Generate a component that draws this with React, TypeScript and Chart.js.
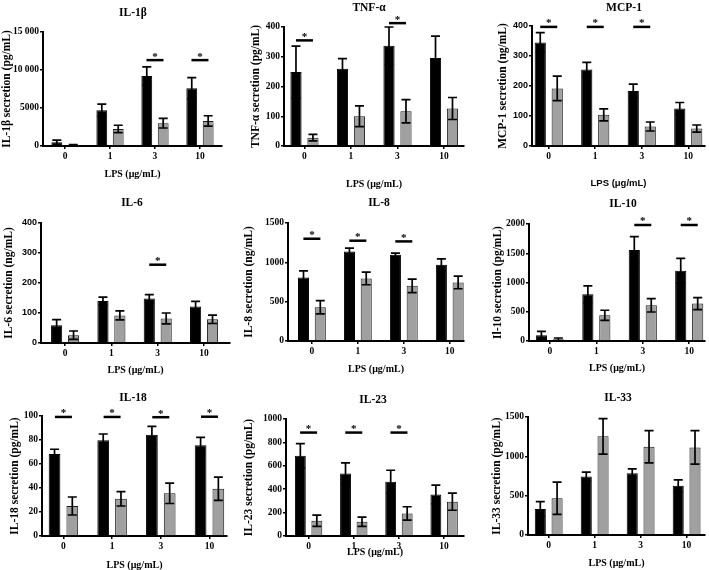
import React, { useEffect, useRef } from "react";
import { Chart, registerables } from "chart.js";

Chart.register(...registerables);

// ---------- DATA ----------
const LPS_DOSES = ["0", "1", "3", "10"];

// IL-1β (pg/mL)
const IL1B_BLACK = [480, 4700, 9200, 7600];
const IL1B_BLACK_ERR = [300, 800, 1200, 1400];
const IL1B_GRAY = [120, 2250, 3000, 3300];
const IL1B_GRAY_ERR = [80, 480, 630, 680];
const IL1B_SIG = [null, null, 11300, 11300];

// TNF-α (pg/mL)
const TNF_BLACK = [249, 260, 337, 296];
const TNF_BLACK_ERR = [87, 34, 63, 73];
const TNF_GRAY = [28, 100, 117, 126];
const TNF_GRAY_ERR = [11, 35, 39, 37];
const TNF_SIG = [355, null, 413, null];

// MCP-1 (ng/mL)
const MCP1_BLACK = [345, 255, 183, 125];
const MCP1_BLACK_ERR = [33, 24, 23, 20];
const MCP1_GRAY = [192, 104, 65, 58];
const MCP1_GRAY_ERR = [41, 20, 15, 12];
const MCP1_SIG = [397, 397, 397, null];

// IL-6 (ng/mL)
const IL6_BLACK = [59, 140, 148, 122];
const IL6_BLACK_ERR = [19, 13, 13, 17];
const IL6_GRAY = [26, 92, 82, 79];
const IL6_GRAY_ERR = [14, 15, 18, 14];
const IL6_SIG = [null, null, 261, null];

// IL-8 (ng/mL)
const IL8_BLACK = [807, 1139, 1096, 969];
const IL8_BLACK_ERR = [85, 42, 22, 76];
const IL8_GRAY = [429, 795, 701, 744];
const IL8_GRAY_ERR = [85, 80, 85, 80];
const IL8_SIG = [1300, 1275, 1266, null];

// IL-10 (pg/mL)
const IL10_BLACK = [97, 800, 1554, 1200];
const IL10_BLACK_ERR = [69, 143, 229, 211];
const IL10_GRAY = [29, 440, 611, 640];
const IL10_GRAY_ERR = [22, 86, 115, 103];
const IL10_SIG = [null, null, 1983, 1983];

// IL-18 (pg/mL)
const IL18_BLACK = [68.3, 79.7, 84.4, 75.6];
const IL18_BLACK_ERR = [4, 5.3, 7, 6.6];
const IL18_GRAY = [25, 31, 35.6, 39.4];
const IL18_GRAY_ERR = [7.5, 6, 8.5, 9.7];
const IL18_SIG = [99.2, 99.2, 99, 99.4];

// IL-23 (pg/mL)
const IL23_BLACK = [685, 534, 463, 355];
const IL23_BLACK_ERR = [105, 91, 99, 80];
const IL23_GRAY = [131, 122, 193, 293];
const IL23_GRAY_ERR = [48, 40, 57, 73];
const IL23_SIG = [884, 884, 884, null];

// IL-33 (pg/mL)
const IL33_BLACK = [331, 744, 786, 625];
const IL33_BLACK_ERR = [94, 55, 55, 76];
const IL33_GRAY = [467, 1254, 1122, 1113];
const IL33_GRAY_ERR = [204, 225, 204, 213];
const IL33_SIG = [null, null, null, null];

const TITLES = ["IL-1β", "TNF-α", "MCP-1", "IL-6", "IL-8", "IL-10", "IL-18", "IL-23", "IL-33"];
const Y_TITLES = [
  "IL-1β secretion (pg/mL)",
  "TNF-α secretion (pg/mL)",
  "MCP-1 secretion (ng/mL)",
  "IL-6 secretion (ng/mL)",
  "IL-8 secretion (ng/mL)",
  "Il-10 secretion (pg/mL)",
  "IL-18 secretion (pg/mL)",
  "IL-23 secretion (pg/mL)",
  "IL-33 secretion (pg/mL)",
];
const Y_MAX = [15000, 400, 400, 400, 1500, 2000, 100, 1000, 1500];
const Y_STEP = [5000, 100, 100, 100, 500, 500, 20, 200, 500];
const X_TITLE = "LPS (μg/mL)";

const SERIES = [
  [IL1B_BLACK, IL1B_BLACK_ERR, IL1B_GRAY, IL1B_GRAY_ERR, IL1B_SIG],
  [TNF_BLACK, TNF_BLACK_ERR, TNF_GRAY, TNF_GRAY_ERR, TNF_SIG],
  [MCP1_BLACK, MCP1_BLACK_ERR, MCP1_GRAY, MCP1_GRAY_ERR, MCP1_SIG],
  [IL6_BLACK, IL6_BLACK_ERR, IL6_GRAY, IL6_GRAY_ERR, IL6_SIG],
  [IL8_BLACK, IL8_BLACK_ERR, IL8_GRAY, IL8_GRAY_ERR, IL8_SIG],
  [IL10_BLACK, IL10_BLACK_ERR, IL10_GRAY, IL10_GRAY_ERR, IL10_SIG],
  [IL18_BLACK, IL18_BLACK_ERR, IL18_GRAY, IL18_GRAY_ERR, IL18_SIG],
  [IL23_BLACK, IL23_BLACK_ERR, IL23_GRAY, IL23_GRAY_ERR, IL23_SIG],
  [IL33_BLACK, IL33_BLACK_ERR, IL33_GRAY, IL33_GRAY_ERR, IL33_SIG],
];

// ---------- LAYOUT (page px) ----------
type Lay = {
  cx: number; cy: number; cw: number; ch: number;
  L: number; T: number; R: number; B: number;
  xMin: number; xMax: number;
  titleX: number; titleY: number; xTitleY: number; yTitleX: number;
  sansY?: boolean; sansXTitle?: boolean;
};

const LAYOUT: Lay[] = [
  { cx: 0, cy: 0, cw: 236, ch: 192, L: 43, T: 32, R: 222, B: 146, xMin: -0.49, xMax: 3.49, titleX: 133, titleY: 13, xTitleY: 174, yTitleX: 7 },
  { cx: 236, cy: 0, cw: 234, ch: 192, L: 284, T: 27, R: 464, B: 146, xMin: -0.44, xMax: 3.43, titleX: 369, titleY: 8, xTitleY: 184, yTitleX: 256 },
  { cx: 470, cy: 0, cw: 239, ch: 192, L: 532, T: 26, R: 705, B: 146, xMin: -0.36, xMax: 3.36, titleX: 624, titleY: 8, xTitleY: 183, yTitleX: 503, sansY: true, sansXTitle: true },
  { cx: 0, cy: 192, cw: 236, ch: 193, L: 41, T: 223, R: 230, B: 343, xMin: -0.52, xMax: 3.56, titleX: 132, titleY: 203, xTitleY: 370, yTitleX: 9, sansY: true },
  { cx: 236, cy: 192, cw: 234, ch: 193, L: 288, T: 223, R: 464, B: 341, xMin: -0.52, xMax: 3.31, titleX: 379, titleY: 203, xTitleY: 369, yTitleX: 249 },
  { cx: 470, cy: 192, cw: 239, ch: 193, L: 529, T: 224, R: 705, B: 341, xMin: -0.45, xMax: 3.34, titleX: 623, titleY: 204, xTitleY: 368, yTitleX: 498 },
  { cx: 0, cy: 385, cw: 236, ch: 185, L: 42, T: 416, R: 227, B: 536, xMin: -0.44, xMax: 3.36, titleX: 133, titleY: 398, xTitleY: 565, yTitleX: 15 },
  { cx: 236, cy: 385, cw: 234, ch: 185, L: 286, T: 419, R: 464, B: 536, xMin: -0.5, xMax: 3.44, titleX: 373, titleY: 400, xTitleY: 552, yTitleX: 249 },
  { cx: 470, cy: 385, cw: 239, ch: 185, L: 528, T: 417, R: 705, B: 535, xMin: -0.45, xMax: 3.4, titleX: 618, titleY: 398, xTitleY: 563, yTitleX: 497 },
];

const SERIF = "'Liberation Serif', 'Times New Roman', serif";
const SANS = "'Liberation Sans', Arial, sans-serif";
const BLACK_FILL = "#000000";
const GRAY_FILL = "#a0a0a0";

const fmt = (v: number) =>
  v >= 10000 ? String(v).replace(/\B(?=(\d{3})+(?!\d))/g, " ") : String(v);

function Panel({ idx }: { idx: number }) {
  const ref = useRef<HTMLCanvasElement>(null);
  const lay = LAYOUT[idx];
  useEffect(() => {
    const [black, blackErr, gray, grayErr, sig] = SERIES[idx] as any[];
    const yAxisW = lay.L - lay.cx;
    const xAxisH = lay.cy + lay.ch - lay.B;
    const padTop = lay.T - lay.cy;
    const padRight = lay.cx + lay.cw - lay.R;
    const yTitleSize = 11.5;
    const yTitlePad = lay.yTitleX - lay.cx - (yTitleSize * 1.2) / 2;
    const xTitleSize = 10;
    const xTitlePad = lay.cy + lay.ch - lay.xTitleY - (xTitleSize * 1.2) / 2;

    const overlay = {
      id: "overlay" + idx,
      afterDatasetsDraw(chart: any) {
        const ctx = chart.ctx as CanvasRenderingContext2D;
        const xs = chart.scales.x;
        const ys = chart.scales.y;
        ctx.save();
        ctx.strokeStyle = "#000";
        ctx.lineWidth = 1.7;
        const pairs = [
          [black, blackErr],
          [gray, grayErr],
        ];
        pairs.forEach(([m, e], di) => {
          const meta = chart.getDatasetMeta(di);
          meta.data.forEach((bar: any, j: number) => {
            const x = bar.x;
            const yt = ys.getPixelForValue(m[j] + e[j]);
            const yb = ys.getPixelForValue(Math.max(0, m[j] - e[j]));
            const cap = 4.5;
            ctx.beginPath();
            ctx.moveTo(x, yt);
            ctx.lineTo(x, yb);
            ctx.moveTo(x - cap, yt);
            ctx.lineTo(x + cap, yt);
            ctx.moveTo(x - cap, yb);
            ctx.lineTo(x + cap, yb);
            ctx.stroke();
          });
        });
        // significance markers
        ctx.lineWidth = 2.5;
        ctx.fillStyle = "#000";
        ctx.font = `bold 11px ${SERIF}`;
        ctx.textAlign = "center";
        ctx.textBaseline = "alphabetic";
        sig.forEach((s: number | null, i: number) => {
          if (s == null) return;
          const x = xs.getPixelForValue(i);
          const y = ys.getPixelForValue(s);
          ctx.beginPath();
          ctx.moveTo(x - 8.5, y);
          ctx.lineTo(x + 8.5, y);
          ctx.stroke();
          ctx.fillText("*", x, y - 0.5);
        });
        // panel title
        ctx.font = `bold 11.5px ${SERIF}`;
        ctx.textBaseline = "middle";
        ctx.fillText(TITLES[idx], lay.titleX - lay.cx, lay.titleY - lay.cy);
        ctx.restore();
      },
    };

    const chart = new Chart(ref.current as HTMLCanvasElement, {
      type: "bar",
      data: {
        datasets: [
          {
            data: black.map((v: number, i: number) => ({ x: i, y: v })),
            backgroundColor: BLACK_FILL,
            borderColor: "#000",
            borderWidth: 1,
            categoryPercentage: 0.73,
            barPercentage: 0.66,
          },
          {
            data: gray.map((v: number, i: number) => ({ x: i, y: v })),
            backgroundColor: GRAY_FILL,
            borderColor: "#1a1a1a",
            borderWidth: 1,
            categoryPercentage: 0.73,
            barPercentage: 0.66,
          },
        ],
      },
      options: {
        responsive: false,
        animation: false,
        devicePixelRatio: 1,
        events: [],
        layout: { padding: { left: 0, top: padTop, right: padRight, bottom: 0 } },
        plugins: {
          legend: { display: false },
          title: { display: false },
          tooltip: { enabled: false },
        },
        scales: {
          x: {
            type: "linear",
            min: lay.xMin,
            max: lay.xMax,
            offset: false,
            afterBuildTicks: (scale: any) => {
              scale.ticks = LPS_DOSES.map((_, i) => ({ value: i }));
            },
            afterFit: (scale: any) => {
              scale.height = xAxisH;
            },
            ticks: {
              autoSkip: false,
              maxRotation: 0,
              padding: 2,
              color: "#000",
              font: { family: SERIF, size: 9.5, weight: "bold" },
              callback: (v: any) => LPS_DOSES[Math.round(Number(v))] ?? "",
            },
            grid: {
              display: true,
              offset: false,
              drawOnChartArea: false,
              drawTicks: true,
              tickLength: 3,
              color: "#000",
              lineWidth: 1.5,
            },
            border: { display: true, color: "#000", width: 2 },
            title: {
              display: true,
              text: X_TITLE,
              color: "#000",
              font: { family: lay.sansXTitle ? SANS : SERIF, size: lay.sansXTitle ? 9.5 : xTitleSize, weight: "bold" },
              padding: { top: 0, bottom: xTitlePad },
            },
          },
          y: {
            type: "linear",
            min: 0,
            max: Y_MAX[idx],
            afterFit: (scale: any) => {
              scale.width = yAxisW;
            },
            ticks: {
              stepSize: Y_STEP[idx],
              padding: 1,
              color: "#000",
              font: { family: lay.sansY ? SANS : SERIF, size: lay.sansY ? 9 : 9.5, weight: "bold" },
              callback: (v: any) => fmt(Number(v)),
            },
            grid: {
              display: true,
              drawOnChartArea: false,
              drawTicks: true,
              tickLength: 3,
              color: "#000",
              lineWidth: 1.5,
            },
            border: { display: true, color: "#000", width: 2 },
            title: {
              display: true,
              text: Y_TITLES[idx],
              color: "#000",
              font: { family: SERIF, size: yTitleSize, weight: "bold" },
              padding: { top: yTitlePad, bottom: 0 },
            },
          },
        },
      },
      plugins: [overlay],
    } as any);
    return () => chart.destroy();
  }, [idx]);

  return (
    <canvas
      ref={ref}
      width={lay.cw}
      height={lay.ch}
      style={{ position: "absolute", left: lay.cx, top: lay.cy, width: lay.cw, height: lay.ch }}
    />
  );
}

export default function App() {
  return (
    <div style={{ position: "fixed", left: 0, top: 0, width: 709, height: 570, background: "#fff", overflow: "hidden" }}>
      {LAYOUT.map((_, i) => (
        <Panel key={i} idx={i} />
      ))}
    </div>
  );
}
